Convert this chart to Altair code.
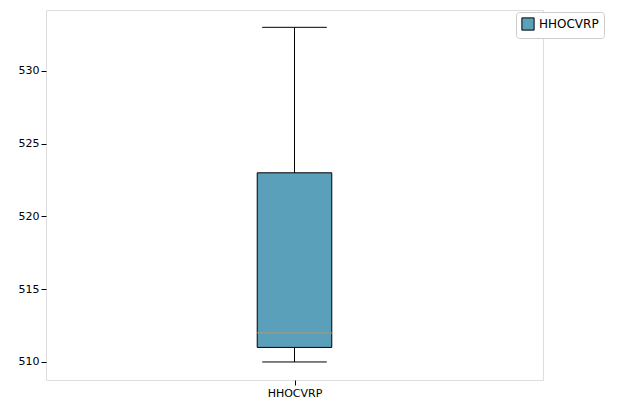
import altair as alt
import pandas as pd

names = ["HHOCVRP"]
lows = [510]
q1s = [511]
medians = [512]
q3s = [523]
highs = [533]

df = pd.DataFrame({"name": names, "low": lows, "q1": q1s, "median": medians,
                   "q3": q3s, "high": highs, "pos": [1.0]})
df["bl"] = df["pos"] - 0.075
df["br"] = df["pos"] + 0.075
df["cl"] = df["pos"] - 0.065
df["cr"] = df["pos"] + 0.065

xs = alt.Scale(domain=[0.5, 1.5], nice=False, zero=False)
ys = alt.Scale(domain=[508.76, 534.19], nice=False, zero=False)
xax = alt.Axis(values=[1], labelExpr="'HHOCVRP'", title=None, grid=False,
               labelFontSize=11, labelColor="black", tickColor="black", domain=False)
yax = alt.Axis(values=[510, 515, 520, 525, 530], title=None, grid=False,
               labelFontSize=11, labelColor="black", tickColor="black", domain=False)

base = alt.Chart(df)
whisk = base.mark_rule(color="black").encode(
    x=alt.X("pos:Q", scale=xs, axis=xax), y=alt.Y("low:Q", scale=ys, axis=yax), y2="high:Q")
box = base.mark_rect(stroke="black", strokeWidth=1).encode(
    x="bl:Q", x2="br:Q", y="q1:Q", y2="q3:Q",
    color=alt.Color("name:N", scale=alt.Scale(range=["#5BA0BA"]),
                    legend=alt.Legend(title=None, orient="none", legendX=470, legendY=2,
                                      symbolType="square", symbolStrokeColor="black",
                                      symbolStrokeWidth=1, symbolSize=150,
                                      strokeColor="#cccccc", padding=5, cornerRadius=3,
                                      labelFontSize=12, fillColor="white")))
med = base.mark_rule(color="#9a9a80", strokeWidth=1.2).encode(x="bl:Q", x2="br:Q", y="median:Q")
caplo = base.mark_rule(color="black").encode(x="cl:Q", x2="cr:Q", y="low:Q")
caphi = base.mark_rule(color="black").encode(x="cl:Q", x2="cr:Q", y="high:Q")

chart = alt.layer(whisk, box, med, caplo, caphi).properties(
    width=497, height=370,
    autosize=alt.AutoSizeParams(type="none"),
    padding={"left": 38, "top": 2, "right": 90, "bottom": 25},
).configure_view(stroke="black", strokeWidth=1).configure(font="DejaVu Sans")

chart.save("out.html", embed_options={"renderer": "svg", "actions": False})
